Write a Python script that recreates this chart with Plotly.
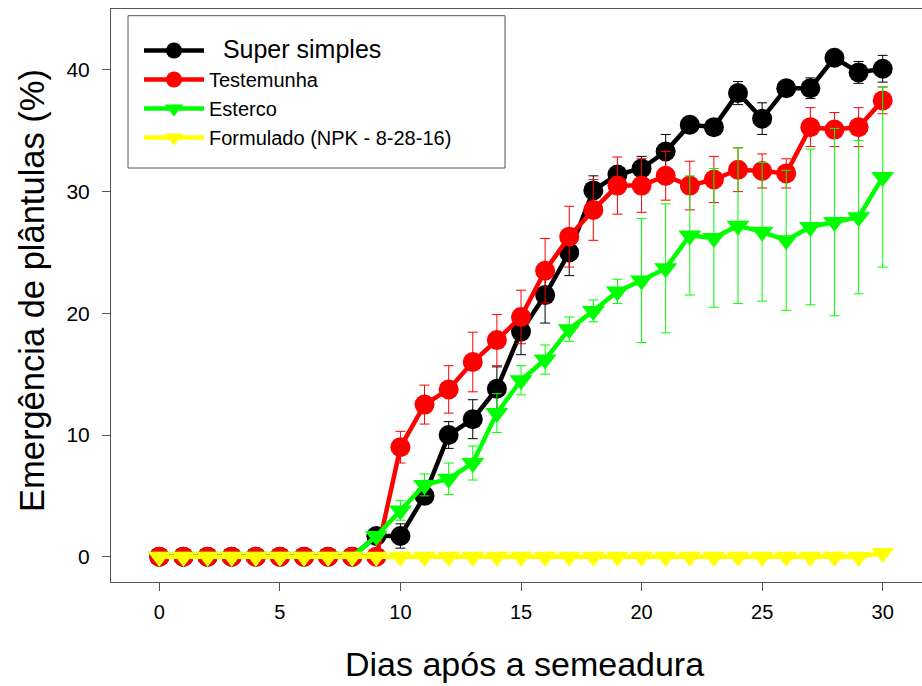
import plotly.graph_objects as go

days = list(range(0, 31))

super_simples = [0, 0, 0, 0, 0, 0, 0, 0, 0, 1.7, 1.7, 5.0, 10.0, 11.3, 13.8, 18.5, 21.5, 25.0,
                 30.1, 31.4, 31.9, 33.3, 35.5, 35.3, 38.1, 36.0, 38.5, 38.5, 41.0, 39.8, 40.1]
super_simples_err = [0, 0, 0, 0, 0, 0, 0, 0, 0, 0.3, 1.0, 0.6, 1.1, 1.6, 1.8, 1.9, 2.3, 1.9,
                     1.2, 0.6, 1.0, 1.4, 0.5, 0.5, 0.95, 1.3, 0.5, 0.85, 0.5, 0.9, 1.1]

testemunha = [0, 0, 0, 0, 0, 0, 0, 0, 0, 0, 9.0, 12.5, 13.75, 16.0, 17.8, 19.7, 23.5, 26.3,
              28.5, 30.5, 30.5, 31.3, 30.5, 31.0, 31.8, 31.7, 31.5, 35.3, 35.1, 35.3, 37.5]
testemunha_err = [0, 0, 0, 0, 0, 0, 0, 0, 0, 0, 1.3, 1.6, 1.95, 2.45, 2.1, 2.2, 2.65, 2.5,
                  2.5, 2.35, 2.2, 2.0, 2.0, 1.9, 1.8, 1.4, 1.2, 1.6, 1.4, 1.6, 1.1]

esterco = [0, 0, 0, 0, 0, 0, 0, 0, 0, 1.7, 3.8, 5.9, 6.4, 7.7, 11.8, 14.5, 16.2, 18.7,
           20.2, 21.8, 22.7, 23.7, 26.4, 26.2, 27.2, 26.7, 26.0, 27.1, 27.5, 27.9, 31.2]
esterco_err = [0, 0, 0, 0, 0, 0, 0, 0, 0, 0.3, 0.8, 0.9, 1.3, 1.4, 1.6, 1.2, 1.2, 1.0,
               0.9, 1.0, 5.1, 5.3, 4.9, 5.7, 6.4, 5.7, 5.75, 6.4, 7.7, 6.3, 7.4]

formulado = [0] * 30 + [0.3]

series_names = ['<span style="font-size:25px">&nbsp;&nbsp;Super simples</span>', 'Testemunha',
                'Esterco', 'Formulado (NPK - 8-28-16)']
x_ticks = [0, 5, 10, 15, 20, 25, 30]
y_ticks = [0, 10, 20, 30, 40]

FONT = "Arial, 'Liberation Sans', sans-serif"
AXC = '#555555'

fig = go.Figure()

def add(y, err, name, color, symbol):
    fig.add_trace(go.Scatter(
        x=days, y=y, name=name, mode='lines+markers',
        line=dict(color=color, width=4.5),
        marker=dict(color=color, size=20, symbol=symbol, line=dict(width=0)),
        error_y=(dict(type='data', array=err, visible=True, thickness=1, width=5, color=color)
                 if err is not None else None),
    ))

add(super_simples, super_simples_err, series_names[0], '#000000', 'circle')
add(testemunha, testemunha_err, series_names[1], '#ff0000', 'circle')
add(esterco, esterco_err, series_names[2], '#00ff00', 'triangle-down')
add(formulado, None, series_names[3], '#ffff00', 'triangle-down')

W, H = 922, 686
L, R, T, B = 111, 0, 9, 104
pw, ph = W - L - R, H - T - B

def px_x(p):
    return (p - L) / pw

def px_y(p):
    return 1 - (p - T) / ph

fig.update_layout(
    width=W, height=H,
    margin=dict(l=L, r=R, t=T, b=B, pad=0),
    paper_bgcolor='white', plot_bgcolor='white',
    font=dict(family=FONT, color='black'),
    showlegend=True,
    legend=dict(
        x=px_x(139), y=px_y(31), xanchor='left', yanchor='top',
        bgcolor='rgba(0,0,0,0)', borderwidth=0,
        font=dict(size=20, family=FONT, color='black'),
        itemwidth=60, tracegroupgap=0,
    ),
    xaxis=dict(
        range=[-2.003, 31.63], tickvals=x_ticks, ticktext=[str(v) for v in x_ticks],
        showgrid=False, zeroline=False, showline=True, linecolor=AXC, linewidth=1,
        mirror=True, ticks='outside', ticklen=8, tickcolor=AXC, tickwidth=1,
        tickfont=dict(size=20, family=FONT, color='black'), ticklabelstandoff=4,
    ),
    yaxis=dict(
        range=[-2.08, 45.01], tickvals=y_ticks, ticktext=[str(v) for v in y_ticks],
        showgrid=False, zeroline=False, showline=True, linecolor=AXC, linewidth=1,
        mirror=False, ticks='outside', ticklen=8, tickcolor=AXC, tickwidth=1,
        tickfont=dict(size=21, family=FONT, color='black'), ticklabelstandoff=8,
    ),
    shapes=[dict(type='rect', xref='paper', yref='paper',
                 x0=px_x(128), x1=px_x(505), y0=px_y(168), y1=px_y(15.7),
                 line=dict(color=AXC, width=1), fillcolor='rgba(0,0,0,0)')],
    annotations=[
        dict(text='Dias após a semeadura', xref='paper', yref='paper',
             x=px_x(524), y=px_y(664), xanchor='center', yanchor='middle',
             showarrow=False, font=dict(size=34, family=FONT, color='black')),
        dict(text='Emergência de plântulas (%)', xref='paper', yref='paper',
             x=px_x(32), y=px_y(291), xanchor='center', yanchor='middle', textangle=-90,
             showarrow=False, font=dict(size=34.5, family=FONT, color='black')),
    ],
)

fig.write_html("out.html")
